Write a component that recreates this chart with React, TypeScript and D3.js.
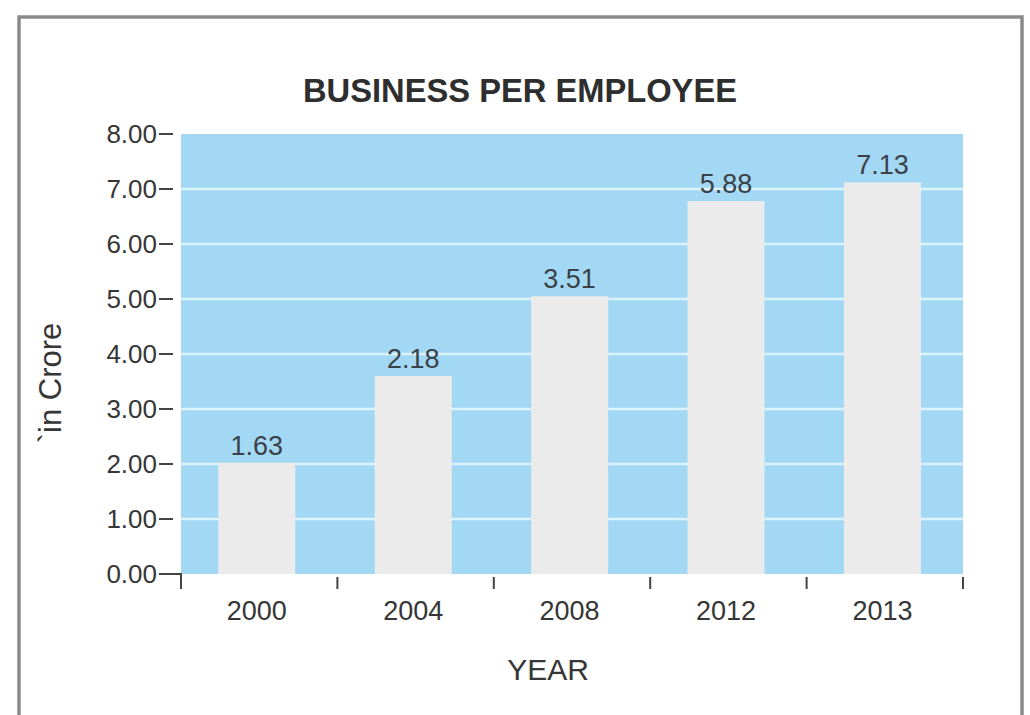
import React from "react";
import * as d3 from "d3";

const years: string[] = ["2000", "2004", "2008", "2012", "2013"];
const barHeights: number[] = [2.02, 3.6, 5.05, 6.78, 7.12];
const valueLabels: string[] = ["1.63", "2.18", "3.51", "5.88", "7.13"];
const yTicks: number[] = [0, 1, 2, 3, 4, 5, 6, 7, 8];
const title = "BUSINESS PER EMPLOYEE";
const xTitle = "YEAR";
const yTitle = "`in Crore";

const W = 1030;
const H = 715;
const PL = 181;
const PR = 963;
const PT = 134;
const PB = 574;
const FONT = "'Liberation Sans', Arial, Helvetica, sans-serif";
const TXT = "#363636";

export default function App() {
  const y = d3.scaleLinear().domain([0, 8]).range([PB, PT]);
  const xOuter = d3.scaleBand<string>().domain(years).range([PL, PR]).padding(0);
  const xBar = d3
    .scaleBand<string>()
    .domain(years)
    .range([PL, PR])
    .paddingInner(0.508)
    .paddingOuter(0.254)
    .align(0.47);
  const fmt = d3.format(".2f");
  const boundaries = years.map((yr) => (xOuter(yr) as number) + xOuter.bandwidth());

  return (
    <svg
      width={W}
      height={H}
      style={{ position: "absolute", left: 0, top: 0, background: "#fff" }}
      fontFamily={FONT}
    >
      <rect x={0} y={0} width={W} height={H} fill="#fff" />
      <rect x={19} y={17} width={1003} height={740} fill="#fff" stroke="#8a8a8a" strokeWidth={3.5} />

      <text
        x={520}
        y={102}
        textAnchor="middle"
        fontWeight="bold"
        fontSize={34}
        fill="#2e2e2e"
        textLength={434}
        lengthAdjust="spacingAndGlyphs"
      >
        {title}
      </text>

      <rect x={PL} y={PT} width={PR - PL} height={PB - PT} fill="#a3d8f4" />
      {yTicks
        .filter((t) => t > 0 && t < 8)
        .map((t) => (
          <line key={"g" + t} x1={PL} x2={PR} y1={y(t)} y2={y(t)} stroke="#dcf2fc" strokeWidth={2.5} />
        ))}

      {years.map((yr, i) => (
        <rect
          key={"b" + yr}
          x={xBar(yr)}
          y={y(barHeights[i])}
          width={xBar.bandwidth()}
          height={PB - y(barHeights[i])}
          fill="#ebebeb"
        />
      ))}

      {years.map((yr, i) => (
        <text
          key={"v" + yr}
          x={(xBar(yr) as number) + xBar.bandwidth() / 2}
          y={y(barHeights[i]) - 8}
          textAnchor="middle"
          fontSize={27}
          fill="#3a4148"
        >
          {valueLabels[i]}
        </text>
      ))}

      {yTicks.map((t) => (
        <g key={"yt" + t}>
          <line x1={159} x2={t === 0 ? PL : 173} y1={y(t)} y2={y(t)} stroke="#444" strokeWidth={2} />
          <text x={157} y={y(t) + 9} textAnchor="end" fontSize={26} fill={TXT}>
            {fmt(t)}
          </text>
        </g>
      ))}
      <line x1={PL} x2={PL} y1={PB - 1} y2={PB + 15} stroke="#444" strokeWidth={2} />
      {boundaries.map((bx, i) => (
        <line key={"xt" + i} x1={bx} x2={bx} y1={PB + 3} y2={PB + 15} stroke="#444" strokeWidth={2} />
      ))}

      {years.map((yr) => (
        <text
          key={"xl" + yr}
          x={(xBar(yr) as number) + xBar.bandwidth() / 2}
          y={620}
          textAnchor="middle"
          fontSize={27}
          fill={TXT}
        >
          {yr}
        </text>
      ))}

      <text x={548} y={680} textAnchor="middle" fontSize={30} fill={TXT}>
        {xTitle}
      </text>

      <text
        transform="translate(61, 383) rotate(-90)"
        textAnchor="middle"
        fontSize={31}
        fill={TXT}
      >
        {yTitle}
      </text>
    </svg>
  );
}
